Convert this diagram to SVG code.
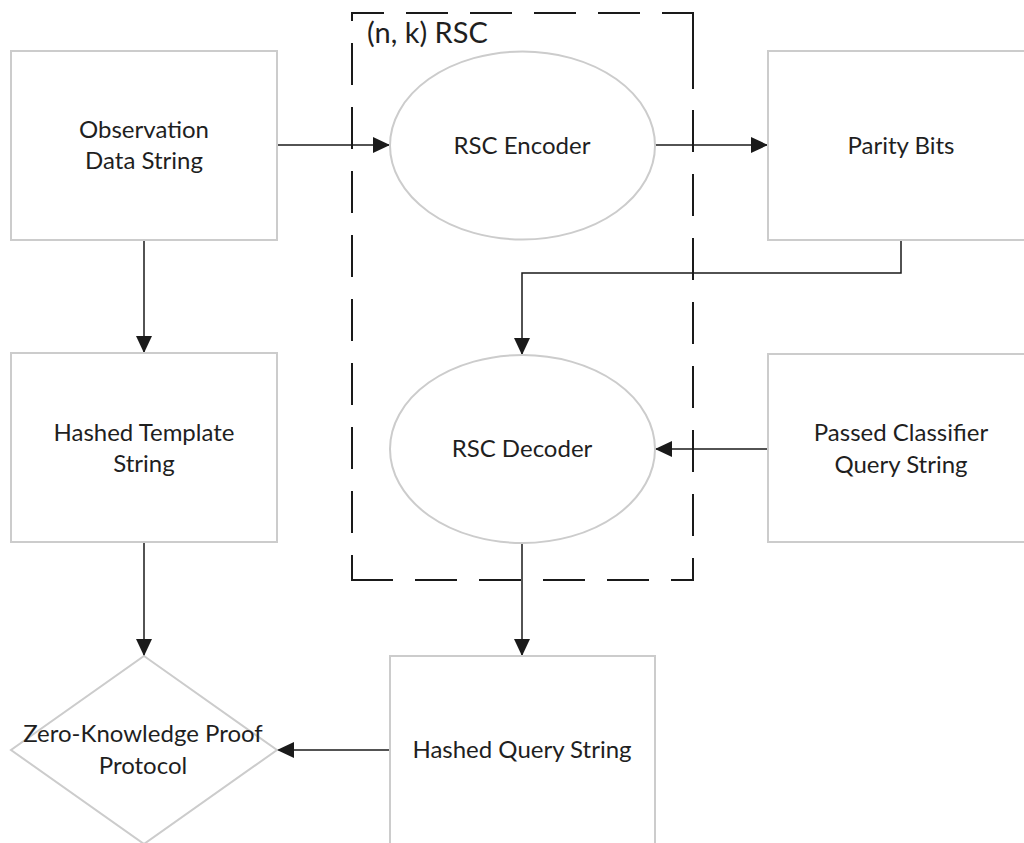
<svg xmlns="http://www.w3.org/2000/svg" width="1024" height="843" viewBox="0 0 1024 843">
  <defs>
    <marker id="arrow" viewBox="0 0 17 16" refX="17" refY="8" markerWidth="17" markerHeight="16" markerUnits="userSpaceOnUse" orient="auto">
      <path d="M0,0 L17,8 L0,16 Z" fill="#1a1a1a"/>
    </marker>
    <style>
      .shape { fill: #ffffff; stroke: #cccccc; stroke-width: 2; }
      .label { font-family: Lato, "Liberation Sans", sans-serif; font-size: 24px; fill: #1f1f1f; text-anchor: middle; }
      .title { font-family: Lato, "Liberation Sans", sans-serif; font-size: 29px; fill: #1f1f1f; }
      .edge { fill: none; stroke: #1a1a1a; stroke-width: 1.5; }
      .frame { fill: none; stroke: #1a1a1a; stroke-width: 2; }
    </style>
  </defs>
  <rect width="1024" height="843" fill="#ffffff"/>

  <!-- dashed boundary of the (n, k) RSC block -->
  <g id="rsc-block">
    <line class="frame" x1="352" y1="13" x2="693" y2="13" stroke-dasharray="42 22" stroke-dashoffset="10"/>
    <line class="frame" x1="352" y1="12" x2="352" y2="581" stroke-dasharray="42 22" stroke-dashoffset="33"/>
    <line class="frame" x1="693" y1="12" x2="693" y2="89"/>
    <line class="frame" x1="693" y1="110" x2="693" y2="581" stroke-dasharray="42 22"/>
    <line class="frame" x1="352" y1="580" x2="693" y2="580" stroke-dasharray="42 22" stroke-dashoffset="1"/>
    <text class="title" x="367" y="43">(n, k) RSC</text>
  </g>

  <!-- connectors -->
  <g id="connectors">
    <line class="edge" x1="277" y1="145" x2="390" y2="145" marker-end="url(#arrow)"/>
    <line class="edge" x1="655" y1="145" x2="768" y2="145" marker-end="url(#arrow)"/>
    <polyline class="edge" points="901,240 901,273 522,273 522,355" marker-end="url(#arrow)"/>
    <line class="edge" x1="768" y1="449" x2="655" y2="449" marker-end="url(#arrow)"/>
    <line class="edge" x1="144" y1="240" x2="144" y2="353" marker-end="url(#arrow)"/>
    <line class="edge" x1="144" y1="542" x2="144" y2="656" marker-end="url(#arrow)"/>
    <line class="edge" x1="522" y1="543" x2="522" y2="656" marker-end="url(#arrow)"/>
    <line class="edge" x1="390" y1="750" x2="277" y2="750" marker-end="url(#arrow)"/>
  </g>

  <g id="observation-data-string">
    <rect class="shape" x="11" y="51" width="266" height="189"/>
    <text class="label" x="144" y="138">Observation</text>
    <text class="label" x="144" y="169">Data String</text>
  </g>

  <g id="rsc-encoder">
    <ellipse class="shape" cx="522.5" cy="145.5" rx="132.5" ry="94"/>
    <text class="label" x="522" y="154">RSC Encoder</text>
  </g>

  <g id="parity-bits">
    <rect class="shape" x="768" y="51" width="266" height="189"/>
    <text class="label" x="901" y="154">Parity Bits</text>
  </g>

  <g id="hashed-template-string">
    <rect class="shape" x="11" y="353" width="266" height="189"/>
    <text class="label" x="144" y="441">Hashed Template</text>
    <text class="label" x="144" y="472">String</text>
  </g>

  <g id="rsc-decoder">
    <ellipse class="shape" cx="522.5" cy="449" rx="132.5" ry="94"/>
    <text class="label" x="522" y="457">RSC Decoder</text>
  </g>

  <g id="passed-classifier-query-string">
    <rect class="shape" x="768" y="354" width="266" height="188"/>
    <text class="label" x="901" y="441">Passed Classifier</text>
    <text class="label" x="901" y="473">Query String</text>
  </g>

  <g id="zero-knowledge-proof-protocol">
    <polygon class="shape" points="144,656 277,750 144,844 11,750"/>
    <text class="label" x="143" y="742">Zero-Knowledge Proof</text>
    <text class="label" x="143" y="774">Protocol</text>
  </g>

  <g id="hashed-query-string">
    <rect class="shape" x="390" y="656" width="265" height="200"/>
    <text class="label" x="522" y="758">Hashed Query String</text>
  </g>
</svg>
